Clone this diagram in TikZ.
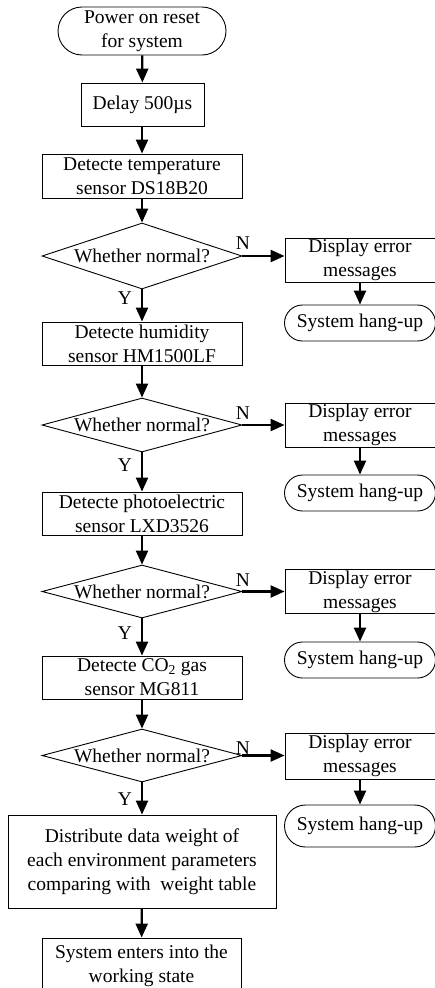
\documentclass[tikz,border=0pt]{standalone}
\usepackage{fontspec}
\setmainfont{Liberation Serif}
\usetikzlibrary{shapes.geometric,arrows.meta}
\begin{document}
\begin{tikzpicture}[x=1pt,y=-1pt,
  every node/.style={font=\fontsize{19.5}{24}\selectfont, align=center, inner sep=0pt},
  box/.style={draw, line width=0.9pt, minimum height=43pt},
  term/.style={draw, line width=0.9pt},
  dec/.style={draw, diamond, aspect=3, line width=0.9pt, minimum width=200pt},
  arr/.style={line width=2.3pt, -{Triangle[length=14pt,width=12pt]}}
]
\clip (0,0) rectangle (435,988);
\useasboundingbox (0,0) rectangle (435,988);

% main column
\node[term, rounded corners=24pt, minimum width=168pt, minimum height=48pt] (start) at (142,31) {Power on reset\\for system};
\node[box, minimum width=123pt] (delay) at (142.5,104.5) {Delay 500µs};
\node[box, minimum width=200pt, minimum height=44pt] (temp) at (142,176) {Detecte temperature\\sensor DS18B20};
\node[dec, minimum height=66pt] (d1) at (142,256) {\makebox[0pt]{Whether normal?}};
\node[box, minimum width=200pt] (hum) at (142,343.5) {Detecte humidity\\sensor HM1500LF};
\node[dec, minimum height=54pt] (d2) at (142,425) {\makebox[0pt]{Whether normal?}};
\node[box, minimum width=200pt] (photo) at (142,513.5) {Detecte photoelectric\\sensor LXD3526};
\node[dec, minimum height=53pt] (d3) at (142,591.5) {\makebox[0pt]{Whether normal?}};
\node[box, minimum width=200pt] (co2) at (142,677.5) {Detecte CO\textsubscript{2} gas\\sensor MG811};
\node[dec, minimum height=53pt] (d4) at (142,755.5) {\makebox[0pt]{Whether normal?}};
\node[box, minimum width=268pt, minimum height=93pt] (dist) at (142,861.5) {Distribute data weight of\\each environment parameters\\comparing with\ \ weight table};
\node[box, minimum width=199pt, minimum height=56pt] (final) at (141.5,966) {System enters into the\\working state};

% right column
\node[box, minimum width=150pt, minimum height=44pt] (e1) at (360,260) {Display error\\messages};
\node[term, rounded corners=18pt, minimum width=151pt, minimum height=36pt] (h1) at (360,323) {System hang-up};
\node[box, minimum width=150pt, minimum height=44pt] (e2) at (360,425) {Display error\\messages};
\node[term, rounded corners=18pt, minimum width=151pt, minimum height=36pt] (h2) at (360,493) {System hang-up};
\node[box, minimum width=150pt, minimum height=44pt] (e3) at (360,591.5) {Display error\\messages};
\node[term, rounded corners=18pt, minimum width=151pt, minimum height=36pt] (h3) at (360,660) {System hang-up};
\node[box, minimum width=150pt, minimum height=46pt] (e4) at (360,756) {Display error\\messages};
\node[term, rounded corners=21pt, minimum width=151pt, minimum height=42pt] (h4) at (360,826) {System hang-up};

% labels
\node (n1) at (243,243) {N};
\node (n2) at (243,413) {N};
\node (n3) at (243,580) {N};
\node (n4) at (243,748) {N};
\node (y1) at (125,298) {Y};
\node (y2) at (125,465) {Y};
\node (y3) at (125,633) {Y};
\node (y4) at (125,799) {Y};

% connectors
\draw[arr] (start) -- (delay);
\draw[arr] (delay.south -| start.south) -- (temp);
\draw[arr] (temp) -- (d1);
\draw[arr] (d1) -- (hum);
\draw[arr] (hum) -- (d2);
\draw[arr] (d2) -- (photo);
\draw[arr] (photo) -- (d3);
\draw[arr] (d3) -- (co2);
\draw[arr] (co2) -- (d4);
\draw[arr] (d4) -- (dist);
\draw[arr] (dist) -- (final);
\draw[arr] (d1.east) -- (d1.east -| e1.west);
\draw[arr] (d2.east) -- (d2.east -| e2.west);
\draw[arr] (d3.east) -- (d3.east -| e3.west);
\draw[arr] (d4.east) -- (d4.east -| e4.west);
\draw[arr] (e1) -- (h1);
\draw[arr] (e2) -- (h2);
\draw[arr] (e3) -- (h3);
\draw[arr] (e4) -- (h4);
\end{tikzpicture}
\end{document}
